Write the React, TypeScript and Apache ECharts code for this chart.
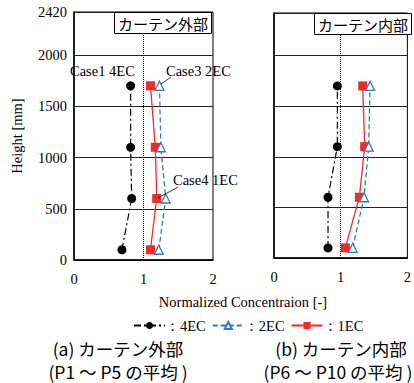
import React, { useEffect, useRef } from "react";
import * as echarts from "echarts";

const heights = [100, 600, 1100, 1700];
const outer4EC = [0.69, 0.83, 0.815, 0.815];
const outer2EC = [1.22, 1.32, 1.25, 1.23];
const outer1EC = [1.1, 1.19, 1.17, 1.1];
const inner4EC = [0.81, 0.81, 0.95, 0.95];
const inner2EC = [1.18, 1.35, 1.42, 1.44];
const inner1EC = [1.07, 1.28, 1.36, 1.33];
const xTicks = [0, 1, 2];
const yMax = 2420;
const panelTitles = ["カーテン外部", "カーテン内部"];
const captions = [
  ["(a) カーテン外部", "(P1 ～ P5 の平均 )"],
  ["(b) カーテン内部", "(P6 ～ P10 の平均 )"],
];

const SERIF = "Liberation Serif";
const SANS = "Noto Sans CJK JP";
const RED = "#EE2B24";
const BLUE = "#2F78C4";
const FS = 14.5;

const pairs = (xs: number[]) => xs.map((x, i) => [x, heights[i]]);

export default function App() {
  const ref = useRef<HTMLDivElement>(null);
  useEffect(() => {
    if (!ref.current) return;
    const chart = echarts.init(ref.current, null, { renderer: "svg" });
    const xAxisBase = (gridIndex: number) => ({
      type: "value",
      gridIndex,
      min: xTicks[0],
      max: xTicks[xTicks.length - 1],
      interval: 1,
      axisLine: { show: true, lineStyle: { color: "#000", width: 1.5 } },
      axisTick: { show: false },
      splitLine: { show: false },
      axisLabel: { margin: 11, color: "#000", fontFamily: SERIF, fontSize: FS, formatter: (v: number) => String(v) },
    });
    const yAxisBase = (gridIndex: number, showLabel: boolean) => ({
      type: "value",
      gridIndex,
      min: 0,
      max: yMax,
      interval: 500,
      axisLine: { show: true, lineStyle: { color: "#000", width: 1.5 } },
      axisTick: { show: false },
      splitLine: { show: true, lineStyle: { color: "#222", width: 1 } },
      axisLabel: {
        show: showLabel,
        margin: 7,
        color: "#000",
        fontFamily: SERIF,
        fontSize: FS,
        formatter: (v: number) => String(v),
      },
      name: showLabel ? "Height [mm]" : "",
      nameLocation: "middle",
      nameGap: 50,
      nameTextStyle: { color: "#000", fontFamily: SERIF, fontSize: FS },
    });
    const mk = (
      name: string,
      data: number[][],
      idx: number,
      kind: "4" | "2" | "1",
      withMark: boolean
    ) => {
      const s: any = {
        name,
        type: "line",
        xAxisIndex: idx,
        yAxisIndex: idx,
        data,
        showSymbol: true,
        symbolSize: 9,
        symbol: kind === "4" ? "circle" : kind === "2" ? "triangle" : "rect",
        lineStyle:
          kind === "4"
            ? { color: "#000", width: 1.2, type: [7, 3, 2, 3] }
            : kind === "2"
            ? { color: BLUE, width: 1.3, type: [5, 3] }
            : { color: RED, width: 1.3, type: "solid" },
        itemStyle:
          kind === "4"
            ? { color: "#000" }
            : kind === "2"
            ? { color: "#fff", borderColor: BLUE, borderWidth: 1.3 }
            : { color: RED },
        z: kind === "1" ? 3 : kind === "2" ? 4 : 2,
      };
      if (withMark) {
        s.markLine = {
          silent: true,
          symbol: "none",
          label: { show: false },
          lineStyle: { color: "#000", type: "dotted", width: 1 },
          data: [{ xAxis: 1 }],
        };
      }
      return s;
    };
    const titleBox = (text: string, left: number, top: number) => ({
      text,
      left,
      top,
      padding: [2, 4],
      borderColor: "#000",
      borderWidth: 1,
      backgroundColor: "#fff",
      textStyle: { fontFamily: SANS, fontSize: 15, fontWeight: "normal", color: "#000", lineHeight: 18 },
      z: 10,
    });
    const txt = (text: string, x: number, y: number, font: string, size: number, align = "left") => ({
      type: "text",
      x,
      y,
      style: {
        text,
        fill: "#000",
        fontFamily: font,
        fontSize: size,
        lineHeight: size,
        align,
        verticalAlign: "middle",
      },
    });
    const ln = (x1: number, y1: number, x2: number, y2: number) => ({
      type: "line",
      shape: { x1, y1, x2, y2 },
      style: { stroke: "#000", lineWidth: 0.8 },
      z: 20,
    });
    chart.setOption({
      animation: false,
      title: [titleBox(panelTitles[0], 114, 12), titleBox(panelTitles[1], 314, 13)],
      grid: [
        { left: 74, top: 12, width: 139, height: 248, show: true, borderColor: "#000", borderWidth: 1, backgroundColor: "transparent" },
        { left: 274, top: 13, width: 140, height: 245, show: true, borderColor: "#000", borderWidth: 1, backgroundColor: "transparent" },
      ],
      xAxis: [xAxisBase(0), xAxisBase(1)],
      yAxis: [yAxisBase(0, true), yAxisBase(1, false)],
      legend: {
        left: 128,
        top: 313,
        itemWidth: 31,
        itemHeight: 9,
        itemGap: 6,
        data: ["4EC", "2EC", "1EC"],
        formatter: (n: string) => "：" + n,
        textStyle: { fontFamily: SERIF, fontSize: FS, color: "#000", padding: [0, 0, 0, -5] },
      },
      series: [
        mk("4EC", pairs(outer4EC), 0, "4", true),
        mk("2EC", pairs(outer2EC), 0, "2", false),
        mk("1EC", pairs(outer1EC), 0, "1", false),
        mk("4EC", pairs(inner4EC), 1, "4", true),
        mk("2EC", pairs(inner2EC), 1, "2", false),
        mk("1EC", pairs(inner1EC), 1, "1", false),
      ],
      graphic: [
        txt("Case1 4EC", 70, 71, SERIF, FS),
        txt("Case3 2EC", 166, 71, SERIF, FS),
        txt("Case4 1EC", 173, 180, SERIF, FS),
        ln(171, 77, 161, 84),
        ln(178, 187, 158, 198),
        txt("Normalized Concentraion [-]", 243, 302, SERIF, FS, "center"),
        txt(captions[0][0], 118, 348, SANS, 17.5, "center"),
        txt(captions[0][1], 118, 371, SANS, 17.5, "center"),
        txt(captions[1][0], 341, 348, SANS, 17.5, "center"),
        txt(captions[1][1], 338, 371, SANS, 17.5, "center"),
      ],
    });
    return () => chart.dispose();
  }, []);
  return (
    <div
      ref={ref}
      style={{ position: "fixed", left: 0, top: 0, width: 414, height: 383, background: "#fff" }}
    />
  );
}
